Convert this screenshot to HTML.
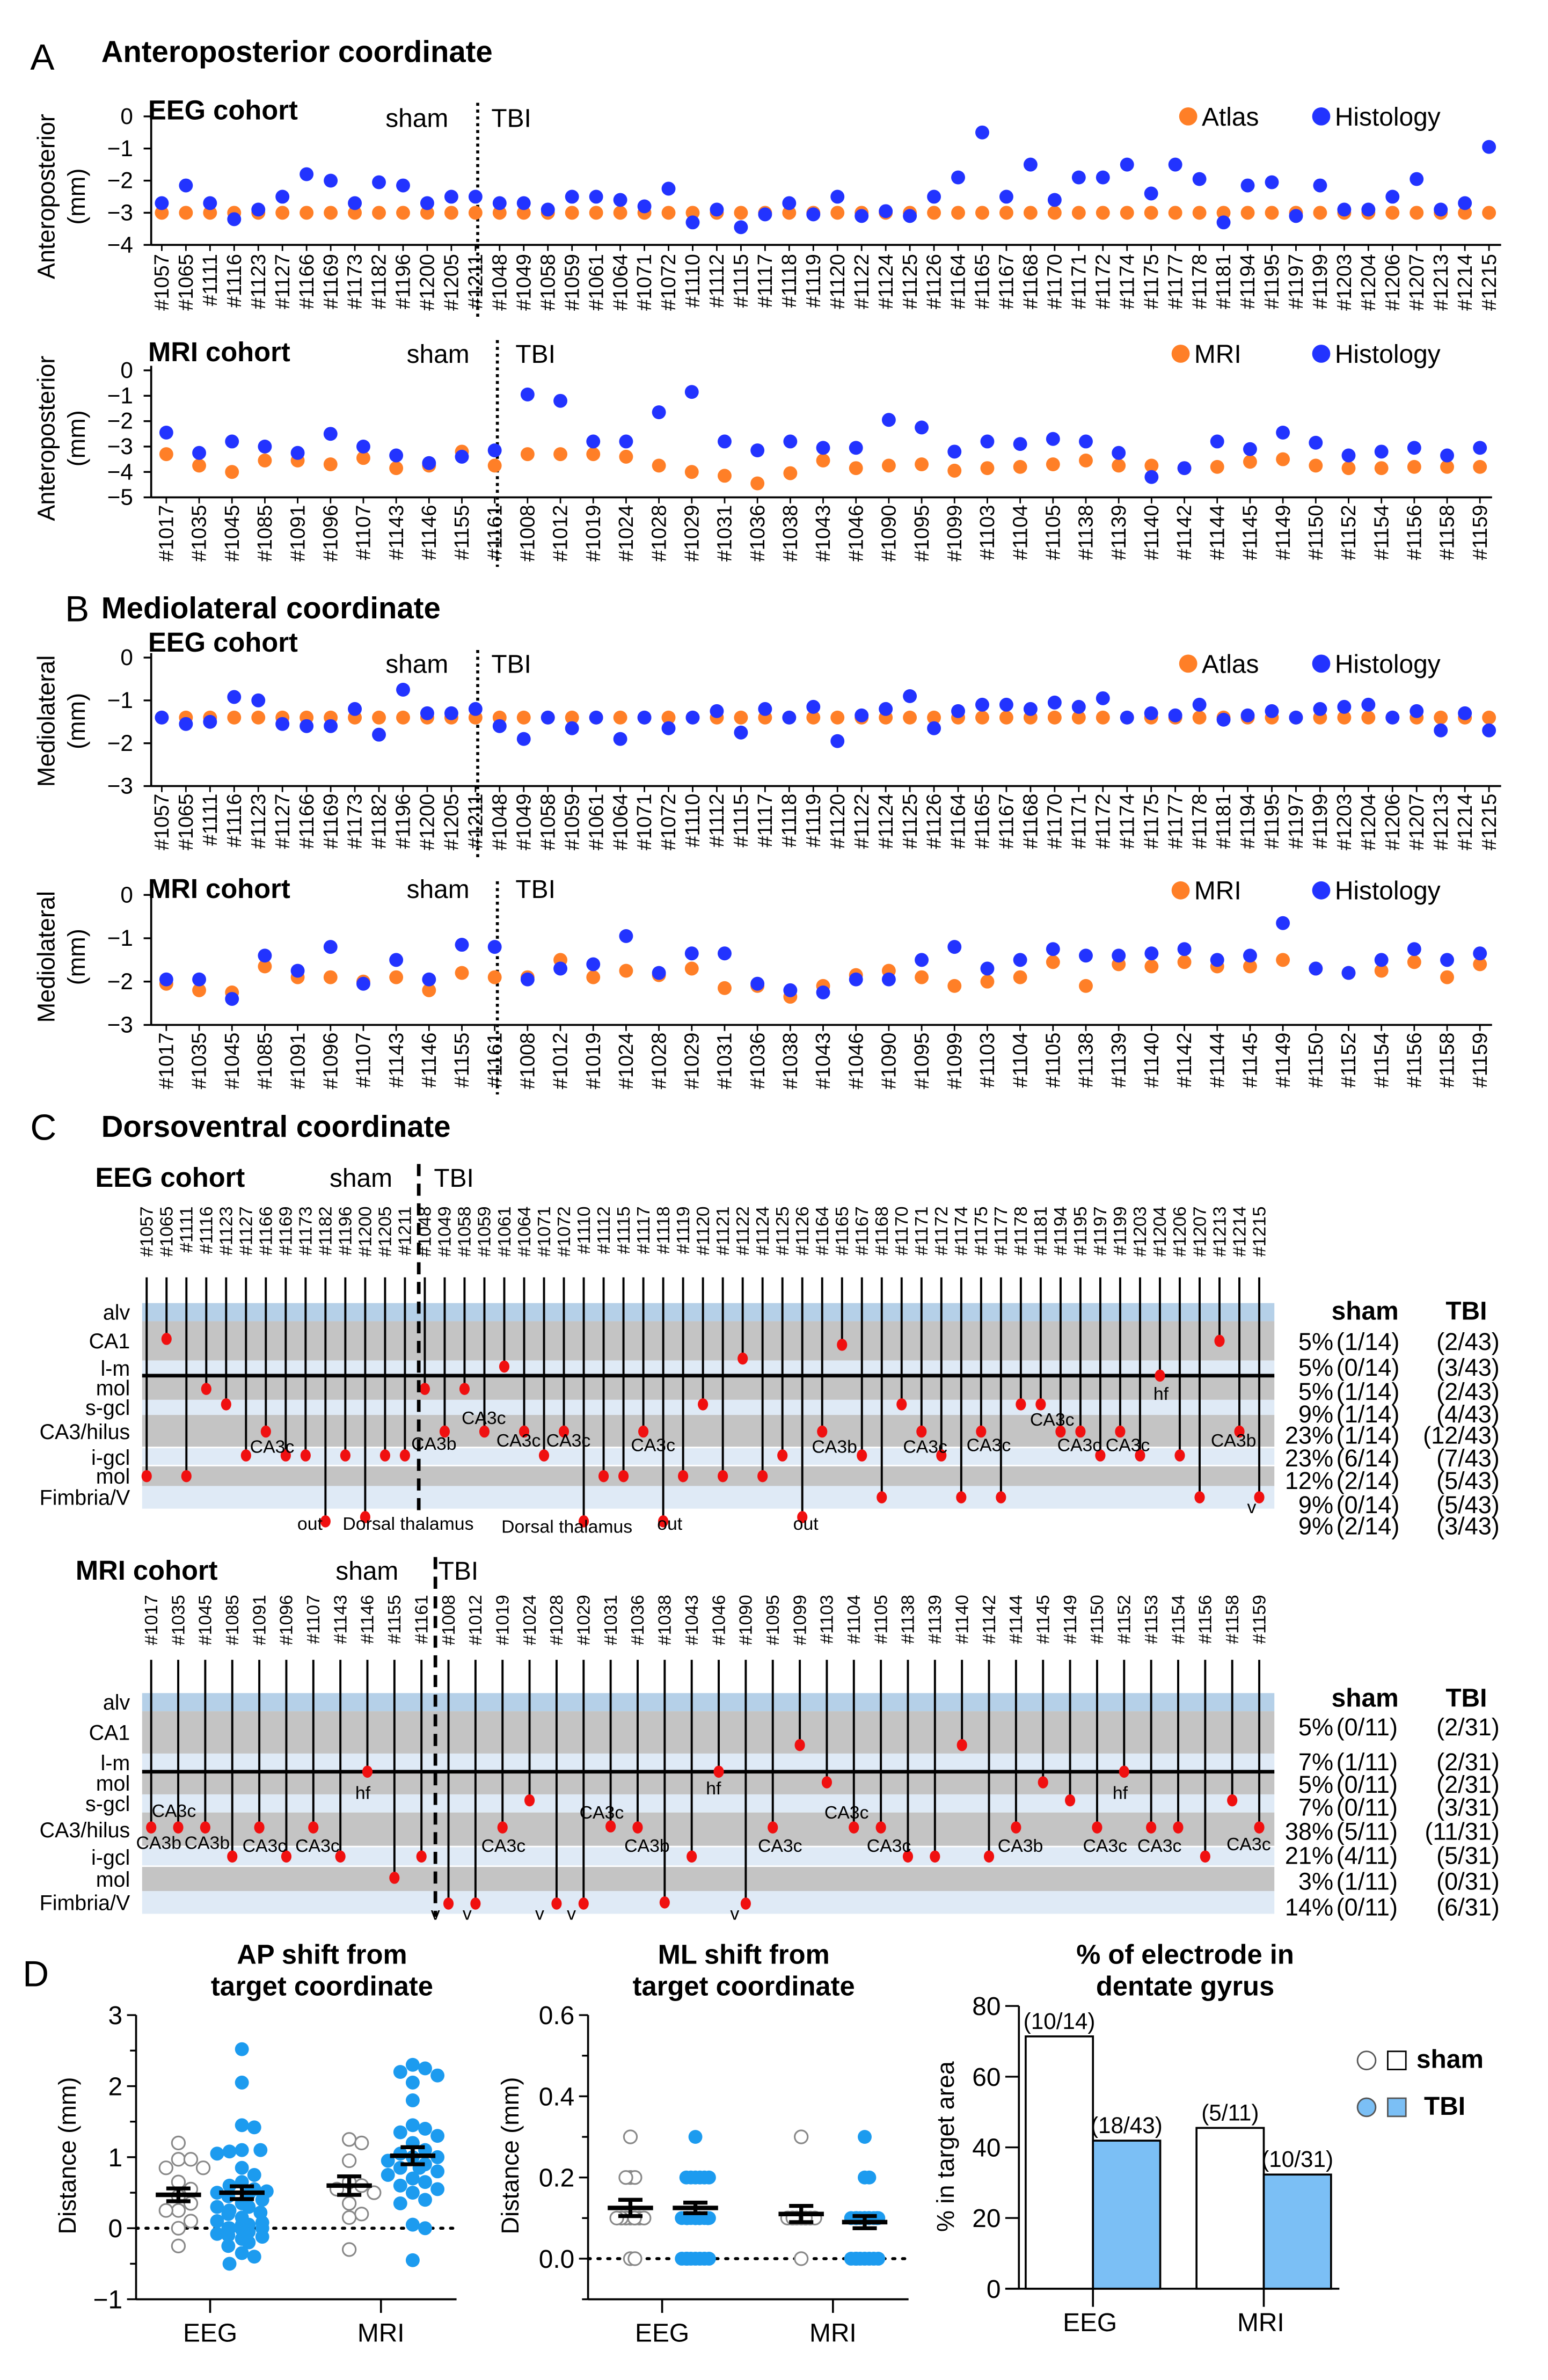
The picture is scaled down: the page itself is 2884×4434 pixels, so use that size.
<!DOCTYPE html>
<html><head><meta charset="utf-8">
<style>
html,body{margin:0;padding:0;background:#fff;}
svg{display:block;}
text{font-family:"Liberation Sans",Arial,sans-serif;fill:#000;}
.b{font-weight:bold;}
</style></head>
<body>
<svg id="fig" width="2884" height="4434" viewBox="0 0 1024 1574.4">
<rect x="0" y="0" width="1024" height="1575" fill="#fff"/>
<!-- Panel A -->
<text x="20" y="46" font-size="24">A</text>
<text x="67" y="41" font-size="20" class="b">Anteroposterior coordinate</text>
<text x="98" y="79" font-size="18" class="b">EEG cohort</text>
<text x="255" y="84" font-size="17">sham</text>
<text x="325" y="84" font-size="17">TBI</text>
<circle cx="786" cy="77" r="6" fill="#ff7f27"/>
<text x="795" y="83" font-size="17">Atlas</text>
<circle cx="874" cy="77" r="6" fill="#2233ff"/>
<text x="883" y="83" font-size="17">Histology</text>
<text transform="translate(36,130) rotate(-90)" text-anchor="middle" font-size="16">Anteroposterior</text>
<text transform="translate(56,130) rotate(-90)" text-anchor="middle" font-size="16">(mm)</text>

<text x="98" y="239" font-size="18" class="b">MRI cohort</text>
<text x="269" y="240" font-size="17">sham</text>
<text x="341" y="240" font-size="17">TBI</text>
<circle cx="781" cy="234" r="6" fill="#ff7f27"/>
<text x="790" y="240" font-size="17">MRI</text>
<circle cx="874" cy="234" r="6" fill="#2233ff"/>
<text x="883" y="240" font-size="17">Histology</text>
<text transform="translate(36,290) rotate(-90)" text-anchor="middle" font-size="16">Anteroposterior</text>
<text transform="translate(56,290) rotate(-90)" text-anchor="middle" font-size="16">(mm)</text>

<!-- Panel B -->
<text x="43" y="411" font-size="24">B</text>
<text x="67" y="409" font-size="20" class="b">Mediolateral coordinate</text>
<text x="98" y="431" font-size="18" class="b">EEG cohort</text>
<text x="255" y="445" font-size="17">sham</text>
<text x="325" y="445" font-size="17">TBI</text>
<circle cx="786" cy="439" r="6" fill="#ff7f27"/>
<text x="795" y="445" font-size="17">Atlas</text>
<circle cx="874" cy="439" r="6" fill="#2233ff"/>
<text x="883" y="445" font-size="17">Histology</text>
<text transform="translate(36,477) rotate(-90)" text-anchor="middle" font-size="16">Mediolateral</text>
<text transform="translate(56,477) rotate(-90)" text-anchor="middle" font-size="16">(mm)</text>

<text x="98" y="594" font-size="18" class="b">MRI cohort</text>
<text x="269" y="594" font-size="17">sham</text>
<text x="341" y="594" font-size="17">TBI</text>
<circle cx="781" cy="589" r="6" fill="#ff7f27"/>
<text x="790" y="595" font-size="17">MRI</text>
<circle cx="874" cy="589" r="6" fill="#2233ff"/>
<text x="883" y="595" font-size="17">Histology</text>
<text transform="translate(36,633) rotate(-90)" text-anchor="middle" font-size="16">Mediolateral</text>
<text transform="translate(56,633) rotate(-90)" text-anchor="middle" font-size="16">(mm)</text>

<!-- Panel C -->
<text x="20" y="754" font-size="24">C</text>
<text x="67" y="752" font-size="20" class="b">Dorsoventral coordinate</text>
<text x="63" y="785" font-size="18" class="b">EEG cohort</text>
<text x="218" y="785" font-size="17">sham</text>
<text x="287" y="785" font-size="17">TBI</text>
<text x="50" y="1045" font-size="18" class="b">MRI cohort</text>
<text x="222" y="1045" font-size="17">sham</text>
<text x="290" y="1045" font-size="17">TBI</text>

<!-- Panel D -->
<text x="15" y="1314" font-size="24">D</text>
<text x="213" y="1299" font-size="18" class="b" text-anchor="middle">AP shift from</text>
<text x="213" y="1320" font-size="18" class="b" text-anchor="middle">target coordinate</text>
<text x="492" y="1299" font-size="18" class="b" text-anchor="middle">ML shift from</text>
<text x="492" y="1320" font-size="18" class="b" text-anchor="middle">target coordinate</text>
<text x="784" y="1299" font-size="18" class="b" text-anchor="middle">% of electrode in</text>
<text x="784" y="1320" font-size="18" class="b" text-anchor="middle">dentate gyrus</text>
<text transform="translate(50,1426) rotate(-90)" text-anchor="middle" font-size="16">Distance (mm)</text>
<text transform="translate(343,1426) rotate(-90)" text-anchor="middle" font-size="16">Distance (mm)</text>
<text transform="translate(631,1420) rotate(-90)" text-anchor="middle" font-size="16">% in target area</text>
<circle cx="904" cy="1363" r="6" fill="#fff" stroke="#555" stroke-width="1"/>
<rect x="918" y="1357" width="12" height="12" fill="#fff" stroke="#000" stroke-width="1"/>
<text x="937" y="1368" font-size="17" class="b">sham</text>
<circle cx="904" cy="1394" r="6" fill="#7bbff5" stroke="#555" stroke-width="1"/>
<rect x="918" y="1388" width="12" height="12" fill="#7bbff5" stroke="#555" stroke-width="1"/>
<text x="942" y="1399" font-size="17" class="b">TBI</text>

<g id="plots"></g>
</svg>
<script>
// ---------------- DATA ----------------
const eegIds = ['1057','1065','1111','1116','1123','1127','1166','1169','1173','1182','1196','1200','1205','1211','1048','1049','1058','1059','1061','1064','1071','1072','1110','1112','1115','1117','1118','1119','1120','1122','1124','1125','1126','1164','1165','1167','1168','1170','1171','1172','1174','1175','1177','1178','1181','1194','1195','1197','1199','1203','1204','1206','1207','1213','1214','1215'];
const eegApHistology = [-2.7,-2.15,-2.7,-3.2,-2.9,-2.5,-1.8,-2.0,-2.7,-2.05,-2.15,-2.7,-2.5,-2.5,-2.7,-2.7,-2.9,-2.5,-2.5,-2.6,-2.8,-2.25,-3.3,-2.9,-3.45,-3.05,-2.7,-3.05,-2.5,-3.1,-2.95,-3.1,-2.5,-1.9,-0.5,-2.5,-1.5,-2.6,-1.9,-1.9,-1.5,-2.4,-1.5,-1.95,-3.3,-2.15,-2.05,-3.1,-2.15,-2.9,-2.9,-2.5,-1.95,-2.9,-2.7,-0.95];
const eegApAtlas = [-3,-3,-3,-3,-3,-3,-3,-3,-3,-3,-3,-3,-3,-3,-3,-3,-3,-3,-3,-3,-3,-3,-3,-3,-3,-3,-3,-3,-3,-3,-3,-3,-3,-3,-3,-3,-3,-3,-3,-3,-3,-3,-3,-3,-3,-3,-3,-3,-3,-3,-3,-3,-3,-3,-3,-3];
const mriIds = ['1017','1035','1045','1085','1091','1096','1107','1143','1146','1155','1161','1008','1012','1019','1024','1028','1029','1031','1036','1038','1043','1046','1090','1095','1099','1103','1104','1105','1138','1139','1140','1142','1144','1145','1149','1150','1152','1154','1156','1158','1159'];
const mriApHistology = [-2.45,-3.25,-2.8,-3.0,-3.25,-2.5,-3.0,-3.35,-3.65,-3.4,-3.15,-0.95,-1.2,-2.8,-2.8,-1.65,-0.85,-2.8,-3.15,-2.8,-3.05,-3.05,-1.95,-2.25,-3.2,-2.8,-2.9,-2.7,-2.8,-3.25,-4.2,-3.85,-2.8,-3.1,-2.45,-2.85,-3.35,-3.2,-3.05,-3.35,-3.05];
const mriApMri = [-3.3,-3.75,-4.0,-3.55,-3.55,-3.7,-3.45,-3.85,-3.75,-3.2,-3.75,-3.3,-3.3,-3.3,-3.4,-3.75,-4.0,-4.15,-4.45,-4.05,-3.55,-3.85,-3.75,-3.7,-3.95,-3.85,-3.8,-3.7,-3.55,-3.75,-3.75,-3.85,-3.8,-3.6,-3.5,-3.75,-3.85,-3.85,-3.8,-3.8,-3.8];
const eegMlHistology = [-1.4,-1.55,-1.5,-0.92,-1.0,-1.55,-1.6,-1.6,-1.2,-1.8,-0.75,-1.3,-1.3,-1.2,-1.6,-1.9,-1.4,-1.65,-1.4,-1.9,-1.4,-1.65,-1.4,-1.25,-1.75,-1.2,-1.4,-1.15,-1.95,-1.35,-1.2,-0.9,-1.65,-1.25,-1.1,-1.1,-1.2,-1.05,-1.15,-0.95,-1.4,-1.3,-1.35,-1.1,-1.45,-1.35,-1.25,-1.4,-1.2,-1.15,-1.1,-1.4,-1.25,-1.7,-1.3,-1.7];
const eegMlAtlas = [-1.4,-1.4,-1.4,-1.4,-1.4,-1.4,-1.4,-1.4,-1.4,-1.4,-1.4,-1.4,-1.4,-1.4,-1.4,-1.4,-1.4,-1.4,-1.4,-1.4,-1.4,-1.4,-1.4,-1.4,-1.4,-1.4,-1.4,-1.4,-1.4,-1.4,-1.4,-1.4,-1.4,-1.4,-1.4,-1.4,-1.4,-1.4,-1.4,-1.4,-1.4,-1.4,-1.4,-1.4,-1.4,-1.4,-1.4,-1.4,-1.4,-1.4,-1.4,-1.4,-1.4,-1.4,-1.4,-1.4];
const mriMlHistology = [-1.95,-1.95,-2.4,-1.4,-1.75,-1.2,-2.05,-1.5,-1.95,-1.15,-1.2,-1.95,-1.7,-1.6,-0.95,-1.8,-1.35,-1.35,-2.05,-2.2,-2.25,-1.95,-1.95,-1.5,-1.2,-1.7,-1.5,-1.25,-1.4,-1.4,-1.35,-1.25,-1.5,-1.4,-0.65,-1.7,-1.8,-1.5,-1.25,-1.5,-1.35];
const mriMlMri = [-2.05,-2.2,-2.25,-1.65,-1.9,-1.9,-2.0,-1.9,-2.2,-1.8,-1.9,-1.9,-1.5,-1.9,-1.75,-1.85,-1.7,-2.15,-2.1,-2.35,-2.1,-1.85,-1.75,-1.9,-2.1,-2.0,-1.9,-1.55,-2.1,-1.6,-1.65,-1.55,-1.65,-1.65,-1.5,-1.7,-1.8,-1.75,-1.55,-1.9,-1.6];

// Dorsoventral: layer position (0 alv,1 CA1,2 l-m,3 mol,4 s-gcl,5 CA3/hilus,6 i-gcl,7 mol,8 Fimbria/V,9 out)
const eegDvIds = ['1057','1065','1111','1116','1123','1127','1166','1169','1173','1182','1196','1200','1205','1211','1048','1049','1058','1059','1061','1064','1071','1072','1110','1112','1115','1117','1118','1119','1120','1121','1122','1124','1125','1126','1164','1165','1167','1168','1170','1171','1172','1174','1175','1177','1178','1181','1194','1195','1197','1199','1203','1204','1206','1207','1213','1214','1215'];
const eegDvDepth = [7.5,1.45,7.5,3.55,4.3,6.4,5.5,6.4,6.4,9.6,6.4,9.4,6.4,6.4,3.55,5.5,3.55,5.5,2.4,5.5,6.4,5.5,9.6,7.5,7.5,5.5,9.6,7.5,4.3,7.5,1.95,7.5,6.4,9.4,5.5,1.6,6.4,8.5,4.3,5.5,6.4,8.5,5.5,8.5,4.3,4.3,5.5,5.5,6.4,5.5,6.4,3.0,6.4,8.5,1.5,5.5,8.5];
const mriDvIds = ['1017','1035','1045','1085','1091','1096','1107','1143','1146','1155','1161','1008','1012','1019','1024','1028','1029','1031','1036','1038','1043','1046','1090','1095','1099','1103','1104','1105','1138','1139','1140','1142','1144','1145','1149','1150','1152','1153','1154','1156','1158','1159'];
const mriDvDepth = [5.43,5.43,5.43,6.47,5.43,6.47,5.43,6.47,3.0,7.45,6.47,8.55,8.55,5.43,4.33,8.55,8.55,5.4,5.43,8.5,6.47,3.0,8.55,5.43,1.8,3.47,5.43,5.43,6.47,6.47,1.8,6.47,5.43,3.47,4.33,5.43,3.0,5.43,5.43,6.47,4.33,5.43];
const layerNames = ['alv','CA1','l-m','mol','s-gcl','CA3/hilus','i-gcl','mol','Fimbria/V'];
const eegPct = ['5%','5%','5%','9%','23%','23%','12%','9%','9%'];
const eegShamFrac = ['(1/14)','(0/14)','(1/14)','(1/14)','(1/14)','(6/14)','(2/14)','(0/14)','(2/14)'];
const eegTbiFrac = ['(2/43)','(3/43)','(2/43)','(4/43)','(12/43)','(7/43)','(5/43)','(5/43)','(3/43)'];
const mriPct = ['5%','7%','5%','7%','38%','21%','3%','14%'];
const mriShamFrac = ['(0/11)','(1/11)','(0/11)','(0/11)','(5/11)','(4/11)','(1/11)','(0/11)'];
const mriTbiFrac = ['(2/31)','(2/31)','(2/31)','(3/31)','(11/31)','(5/31)','(0/31)','(6/31)'];

// Panel D
const shiftCats = ['EEG','MRI'];
const apEegSham = [1.2,0.97,0.97,0.85,0.85,0.65,0.55,0.45,0.35,0.25,0.25,0.1,0.0,-0.25];
const apEegTbi = [2.52,2.05,1.45,1.42,1.1,1.1,1.08,1.05,0.85,0.75,0.65,0.6,0.55,0.52,0.5,0.48,0.45,0.4,0.35,0.3,0.25,0.22,0.2,0.15,0.1,0.08,0.05,0.05,0.0,0.0,0.0,-0.02,-0.05,-0.08,-0.1,-0.12,-0.15,-0.2,-0.25,-0.35,-0.4,-0.5,0.3];
const apMriSham = [1.25,1.2,0.95,0.65,0.6,0.55,0.5,0.35,0.2,0.15,-0.3];
const apMriTbi = [2.3,2.25,2.2,2.15,2.05,1.8,1.45,1.4,1.35,1.3,1.2,1.1,1.05,1.0,1.0,0.95,0.9,0.85,0.85,0.8,0.75,0.7,0.65,0.6,0.55,0.5,0.4,0.35,0.05,0.0,-0.45];
const apMean = [0.47,0.5,0.6,1.02];
const apSem = [0.09,0.09,0.13,0.12];
const mlEegSham = [0.3,0.2,0.2,0.2,0.1,0.1,0.1,0.1,0.1,0.1,0.1,0.1,0,0];
const mlEegTbi = [0.3,0.2,0.2,0.2,0.2,0.2,0.2,0.1,0.1,0.1,0.1,0.1,0.1,0.1,0.1,0.1,0.1,0.1,0.1,0.1,0.1,0.1,0.1,0.1,0.1,0.1,0.1,0.1,0.1,0.1,0.1,0.1,0.1,0.1,0.1,0,0,0,0,0,0,0,0];
const mlMriSham = [0.3,0.1,0.1,0.1,0.1,0.1,0.1,0.1,0.1,0.1,0];
const mlMriTbi = [0.3,0.2,0.2,0.1,0.1,0.1,0.1,0.1,0.1,0.1,0.1,0.1,0.1,0.1,0.1,0.1,0.1,0.1,0.1,0.1,0.1,0.1,0.1,0,0,0,0,0,0,0,0];
const mlMean = [0.125,0.125,0.11,0.09];
const mlSem = [0.02,0.013,0.02,0.015];
const barCats = ['EEG','MRI'];
const barSham = [71.4,45.5];
const barTbi = [41.9,32.3];
const barShamLabels = ['(10/14)','(5/11)'];
const barTbiLabels = ['(18/43)','(10/31)'];

// ---------------- HELPERS ----------------
const NS = document.getElementById('fig').namespaceURI;
const G = document.getElementById('plots');
function mk(tag, attrs, parent){const e=document.createElementNS(NS,tag);for(const k in attrs)e.setAttribute(k,attrs[k]);(parent||G).appendChild(e);return e;}
function tx(str, attrs, parent){const e=mk('text',attrs,parent);e.textContent=str;return e;}
const ORANGE='#ff7f27', BLUE='#2233ff';
function fmt(v){return (v<0?'\u2212':'')+Math.abs(v);}

// ---------------- SCATTER PANELS (A,B) ----------------
function scatterPanel(p){
  const g=mk('g',{});
  
  
  const n=p.ids.length, dx=(p.x1-p.x0)/(n-1);
  const xs=i=>p.x0+i*dx;
  const ys=v=>p.yTop+(0-v)/(0-p.vmin)*(p.yBot-p.yTop);
  let l=mk('line',{x1:p.axisX,y1:ys(0)-3,x2:p.axisX,y2:ys(p.vmin),stroke:'#000','stroke-width':1.3},g);
  
  
  l=mk('line',{x1:p.axisX,y1:ys(p.vmin),x2:p.x1+8,y2:ys(p.vmin),stroke:'#000','stroke-width':1.3},g);
  
  
  for(let v=0; v>=p.vmin; v--){
    const t=mk('line',{x1:p.axisX-5,y1:ys(v),x2:p.axisX,y2:ys(v),stroke:'#000','stroke-width':1.2},g);
    
    
    const tl=tx(fmt(v),{x:p.axisX-12,y:ys(v)+5,'text-anchor':'end','font-size':15,fill:'#333'},g);
    
    
  }
  for(let i=0;i<n;i++){
    const x=xs(i);
    const t=mk('line',{x1:x,y1:ys(p.vmin),x2:x,y2:ys(p.vmin)+4,stroke:'#000','stroke-width':1},g);
    
    
    const lab=tx('#'+p.ids[i],{transform:'translate('+(x+4.5)+','+p.labTop+') rotate(-90)','text-anchor':'end','font-size':13.5,fill:'#333'},g);
    
    
  }
  const d=mk('line',{x1:p.divX,y1:p.divY1,x2:p.divX,y2:p.divY2,stroke:'#000','stroke-width':2,'stroke-dasharray':'2,2.5'},g);
  
  
  p.series.forEach(s=>{
    s.vals.forEach((v,i)=>{
      const c=mk('circle',{cx:xs(i),cy:ys(v),r:4.6,fill:s.color},g);
      
      
    });
  });
}
scatterPanel({name:'eeg-ap-chart',ids:eegIds,x0:107,x1:985,yTop:77,yBot:162,vmin:-4,axisX:100,labTop:168,divX:316,divY1:68,divY2:212,
  series:[{vals:eegApAtlas,color:ORANGE,name:'atlas'},{vals:eegApHistology,color:BLUE,name:'histology'}]});
scatterPanel({name:'mri-ap-chart',ids:mriIds,x0:110,x1:979,yTop:245,yBot:329,vmin:-5,axisX:100,labTop:334,divX:329,divY1:225,divY2:375,
  series:[{vals:mriApMri,color:ORANGE,name:'mri'},{vals:mriApHistology,color:BLUE,name:'histology'}]});
scatterPanel({name:'eeg-ml-chart',ids:eegIds,x0:107,x1:985,yTop:435,yBot:520,vmin:-3,axisX:100,labTop:525,divX:316,divY1:430,divY2:567,
  series:[{vals:eegMlAtlas,color:ORANGE,name:'atlas'},{vals:eegMlHistology,color:BLUE,name:'histology'}]});
scatterPanel({name:'mri-ml-chart',ids:mriIds,x0:110,x1:979,yTop:592,yBot:678,vmin:-3,axisX:100,labTop:683,divX:329,divY1:583,divY2:724,
  series:[{vals:mriMlMri,color:ORANGE,name:'mri'},{vals:mriMlHistology,color:BLUE,name:'histology'}]});

// ---------------- DORSOVENTRAL PANELS (C) ----------------
function dvPanel(p){
  const g=mk('g',{});
  
  
  const B=p.bounds;
  const bandFill=['#b5d0e8','#c4c4c4','#dfeaf6','#c4c4c4','#dfeaf6','#c4c4c4','#dfeaf6','#c4c4c4','#dfeaf6'];
  for(let k=0;k<9;k++){
    const r=mk('rect',{x:94,y:B[k],width:749,height:B[k+1]-B[k]-(k==5||k==6?1:0),fill:bandFill[k]},g);
    
    
    const t=tx(layerNames[k],{x:86,y:(B[k]+B[k+1])/2+5,'text-anchor':'end','font-size':14},g);
    
    
  }
  const hl=mk('line',{x1:94,y1:B[3],x2:843,y2:B[3],stroke:'#000','stroke-width':2.4},g);
  
  
  const ly=d=>{const k=Math.floor(d),f=d-k;const h=k<9?B[k+1]-B[k]:14;return (k<9?B[k]:B[9])+f*h;};
  p.ids.forEach((id,i)=>{
    const x=p.x0+i*p.dx;
    const lab=tx('#'+id,{transform:'translate('+(x+4)+','+p.labTop+') rotate(-90)','text-anchor':'end','font-size':12,fill:'#333'},g);
    
    
    const y=ly(p.depth[i]);
    const s=mk('line',{x1:x,y1:p.stemTop,x2:x,y2:y,stroke:'#000','stroke-width':1.4},g);
    
    
    const c=mk('ellipse',{cx:x,cy:y,rx:3.4,ry:4,fill:'#f01010'},g);
    
    
  });
  const dl=mk('line',{x1:p.dashX,y1:p.dashY1,x2:p.dashX,y2:p.dashY2,stroke:'#000','stroke-width':2.4,'stroke-dasharray':'8,5'},g);
  
  
  p.ann.forEach(a=>{
    const t=tx(a[0],{x:a[1],y:a[2],'font-size':12,'text-anchor':'middle',fill:'#222'},g);
    
    
  });
  const h1=tx('sham',{x:903,y:p.headY,'text-anchor':'middle','font-size':17,'font-weight':'bold'},g);
  
  
  const h2=tx('TBI',{x:970,y:p.headY,'text-anchor':'middle','font-size':17,'font-weight':'bold'},g);
  
  
  p.pct.forEach((v,i)=>{
    const y=p.rowY[i];
    const a=tx(v,{x:882,y:y,'text-anchor':'end','font-size':16},g);
    
    
    const b=tx(p.sham[i],{x:884,y:y,'font-size':16},g);
    
    
    const c=tx(p.tbi[i],{x:992,y:y,'text-anchor':'end','font-size':16},g);
    
    
  });
}
dvPanel({name:'eeg-dv-chart',ids:eegDvIds,depth:eegDvDepth,x0:97,dx:(833-97)/56,bounds:[862,874,900,910,926,936,958,970,983,998],
  labTop:798,stemTop:845,dashX:277,dashY1:770,dashY2:1000,headY:873,rowY:[893,910,926,941,955,970,985,1001,1015],
  pct:eegPct,sham:eegShamFrac,tbi:eegTbiFrac,
  ann:[['CA3c',180,961],['CA3b',287,959],['CA3c',320,942],['CA3c',343,957],['CA3c',376,957],['CA3c',432,960],['CA3b',552,961],['CA3c',612,961],['CA3c',654,960],['CA3c',696,943],['CA3c',714,960],['CA3c',746,960],['CA3b',816,957],['hf',768,926],['out',205,1012],['Dorsal thalamus',270,1012],['Dorsal thalamus',375,1014],['out',443,1012],['out',533,1012],['v',828,1001]]});
dvPanel({name:'mri-dv-chart',ids:mriDvIds,depth:mriDvDepth,x0:100,dx:(833-100)/41,bounds:[1120,1132,1160,1172,1187,1199,1222,1235,1251,1266],
  labTop:1055,stemTop:1098,dashX:288,dashY1:1030,dashY2:1268,headY:1129,rowY:[1148,1171,1186,1201,1217,1233,1250,1267],
  pct:mriPct,sham:mriShamFrac,tbi:mriTbiFrac,
  ann:[['CA3c',115,1202],['CA3b',105,1223],['CA3b',137,1223],['CA3c',175,1225],['CA3c',210,1225],['hf',240,1190],['CA3c',333,1225],['CA3c',398,1203],['CA3b',428,1225],['hf',472,1187],['CA3c',516,1225],['CA3c',560,1203],['CA3c',588,1225],['CA3b',675,1225],['CA3c',731,1225],['CA3c',767,1225],['hf',741,1190],['CA3c',826,1224],['v',288,1270],['v',309,1270],['v',357,1270],['v',378,1270],['v',486,1270]]});

// ---------------- PANEL D ----------------
function swarm(vals, cx, ys, minDist, maxHalf){
  const placed=[]; const out=new Array(vals.length);
  const order=vals.map((v,i)=>[v,i]).sort((a,b)=>b[0]-a[0]);
  let overflow=0;
  order.forEach(([v,i])=>{
    const y=ys(v); let best=null;
    for(let k=0;k<60;k++){
      const off=(k%2?1:-1)*Math.ceil(k/2)*minDist*0.5;
      if(Math.abs(off)>maxHalf) break;
      const x=cx+off;
      if(placed.every(q=>Math.hypot(q[0]-x,q[1]-y)>=minDist)){best=x;break;}
    }
    if(best===null){overflow++; best=cx+((overflow%2)?1:-1)*maxHalf*((overflow%4)/4);}
    placed.push([best,y]); out[i]=[best,y];
  });
  return out;
}
function dotPlot(p){
  const g=mk('g',{});
  
  
  const ys=v=>p.y0+(v-p.vmin)/(p.vmax-p.vmin)*(p.y1-p.y0);
  let a=mk('line',{x1:p.axisX,y1:ys(p.vmax),x2:p.axisX,y2:ys(p.vmin),stroke:'#000','stroke-width':1.3},g);
  
  
  a=mk('line',{x1:p.axisX,y1:ys(p.vmin),x2:p.axisEnd,y2:ys(p.vmin),stroke:'#000','stroke-width':1.3},g);
  
  
  p.ticks.forEach((v,i)=>{
    const t=mk('line',{x1:p.axisX-(p.major[i]?6:4),y1:ys(v),x2:p.axisX,y2:ys(v),stroke:'#000','stroke-width':1.2},g);
    
    
    if(p.tickLabels[i]!==''){
      const tl=tx(p.tickLabels[i],{x:p.axisX-9,y:ys(v)+6,'text-anchor':'end','font-size':17,fill:'#222'},g);
      
      
    }
  });
  const z=mk('line',{x1:p.axisX,y1:ys(0),x2:p.axisEnd,y2:ys(0),stroke:'#000','stroke-width':2,'stroke-dasharray':'1.5,5','stroke-linecap':'round'},g);
  
  
  shiftCats.forEach((c,i)=>{
    const t=mk('line',{x1:p.catX[i],y1:ys(p.vmin),x2:p.catX[i],y2:ys(p.vmin)+9,stroke:'#000','stroke-width':1.3},g);
    
    
    const l=tx(c,{x:p.catX[i],y:1549,'text-anchor':'middle','font-size':17,fill:'#222'},g);
    
    
  });
  p.groups.forEach((grp,gi)=>{
    const pos=swarm(grp.vals,grp.cx,ys,p.minDist,p.maxHalf);
    pos.forEach(q=>{
      const c=mk('circle',grp.sham?{cx:q[0],cy:q[1],r:4.3,fill:'#fff',stroke:'#888','stroke-width':1.1}:{cx:q[0],cy:q[1],r:4.6,fill:'#1c9bef'},g);
      
      
    });
    const m=p.mean[gi], s=p.sem[gi], cx=grp.cx;
    const ml=mk('line',{x1:cx-15,y1:ys(m),x2:cx+15,y2:ys(m),stroke:'#000','stroke-width':3},g);
    
    
    const eb=mk('path',{d:'M'+cx+','+ys(m+s)+'V'+ys(m-s)+'M'+(cx-8)+','+ys(m+s)+'h16M'+(cx-8)+','+ys(m-s)+'h16',stroke:'#000','stroke-width':2.6,fill:'none'},g);
    
    
  });
}
dotPlot({name:'ap-shift-chart',axisX:90,axisEnd:302,y0:1521,y1:1333,vmin:-1,vmax:3,
  ticks:[-1,-0.5,0,0.5,1,1.5,2,2.5,3],major:[1,0,1,0,1,0,1,0,1],tickLabels:['\u22121','','0','','1','','2','','3'],
  catX:[139,252],minDist:8.2,maxHalf:18,mean:apMean,sem:apSem,
  groups:[{vals:apEegSham,cx:118,sham:true},{vals:apEegTbi,cx:160,sham:false},{vals:apMriSham,cx:231,sham:true},{vals:apMriTbi,cx:273,sham:false}]});
dotPlot({name:'ml-shift-chart',axisX:389,axisEnd:601,y0:1521,y1:1333,vmin:-0.1,vmax:0.6,
  ticks:[-0.1,0,0.1,0.2,0.3,0.4,0.5,0.6],major:[0,1,0,1,0,1,0,1],tickLabels:['','0.0','','0.2','','0.4','','0.6'],
  catX:[438,551],minDist:3,maxHalf:11,mean:mlMean,sem:mlSem,
  groups:[{vals:mlEegSham,cx:417,sham:true},{vals:mlEegTbi,cx:460,sham:false},{vals:mlMriSham,cx:530,sham:true},{vals:mlMriTbi,cx:572,sham:false}]});

// Bar chart
(function(){
  const g=mk('g',{});
  
  
  const ys=v=>1514-(v/80)*(1514-1327);
  const axisX=674, catX=[723,836], bw=44.5;
  let a=mk('line',{x1:axisX,y1:ys(80),x2:axisX,y2:ys(0),stroke:'#000','stroke-width':1.3},g);
  
  
  a=mk('line',{x1:665,y1:ys(0),x2:886,y2:ys(0),stroke:'#000','stroke-width':1.3},g);
  
  
  [0,20,40,60,80].forEach(v=>{
    const t=mk('line',{x1:665,y1:ys(v),x2:axisX,y2:ys(v),stroke:'#000','stroke-width':1.2},g);
    
    
    const l=tx(String(v),{x:662,y:ys(v)+6,'text-anchor':'end','font-size':17,fill:'#222'},g);
    
    
  });
  barCats.forEach((c,i)=>{
    const cx=catX[i];
    const b1=mk('rect',{x:cx-bw,y:ys(barSham[i]),width:bw,height:ys(0)-ys(barSham[i]),fill:'#fff',stroke:'#000','stroke-width':1.3},g);
    
    
    const b2=mk('rect',{x:cx,y:ys(barTbi[i]),width:bw,height:ys(0)-ys(barTbi[i]),fill:'#7bbff5',stroke:'#000','stroke-width':1.3},g);
    
    
    const l1=tx(barShamLabels[i],{x:cx-bw/2,y:ys(barSham[i])-5,'text-anchor':'middle','font-size':15},g);
    
    
    const l2=tx(barTbiLabels[i],{x:cx+bw/2,y:ys(barTbi[i])-5,'text-anchor':'middle','font-size':15},g);
    
    
    const t=mk('line',{x1:cx,y1:ys(0),x2:cx,y2:ys(0)+12,stroke:'#000','stroke-width':1.3},g);
    
    
    const cl=tx(c,{x:cx-2,y:1542,'text-anchor':'middle','font-size':17,fill:'#222'},g);
    
    
  });
})();
</script>
</body></html>
